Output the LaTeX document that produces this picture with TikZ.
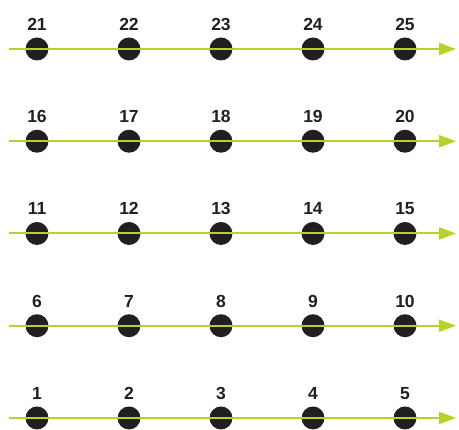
\documentclass[tikz,border=0pt]{standalone}
\usepackage{fontspec}
\setmainfont{Liberation Sans}[BoldFont={Liberation Sans Bold}]
\usetikzlibrary{arrows.meta, positioning}
\definecolor{linegreen}{RGB}{182,210,40}
\definecolor{dotblack}{RGB}{35,31,32}
\tikzset{
	dot/.style={circle, fill=dotblack, minimum size=23pt, inner sep=0pt, outer sep=0pt},
	numlabel/.style={font=\bfseries\fontsize{17.5}{19}\selectfont, text=dotblack,
		inner sep=0pt, text depth=0pt},
	rowline/.style={draw=linegreen, line width=2pt, -{Triangle[length=17pt, width=12pt]}},
}

\begin{document}
\begin{tikzpicture}[x=1pt, y=1pt]
	\useasboundingbox (0,0) rectangle (459,430);
	% five rows, numbered from the bottom
	\foreach \r in {0,...,4}{
		\coordinate (start-\r) at (9, {12+92.25*\r});
		\coordinate (end-\r) at (456, {12+92.25*\r});
		\foreach \c in {1,...,5}{
			\pgfmathtruncatemacro{\n}{5*\r+\c}
			\node[dot] (dot-\n) at ({37+92*(\c-1)}, {12+92.25*\r}) {};
			\node[numlabel, above=7pt of dot-\n] (num-\n) {\n};
		}
		\draw[rowline] (start-\r) -- (end-\r);
	}
\end{tikzpicture}
\end{document}
